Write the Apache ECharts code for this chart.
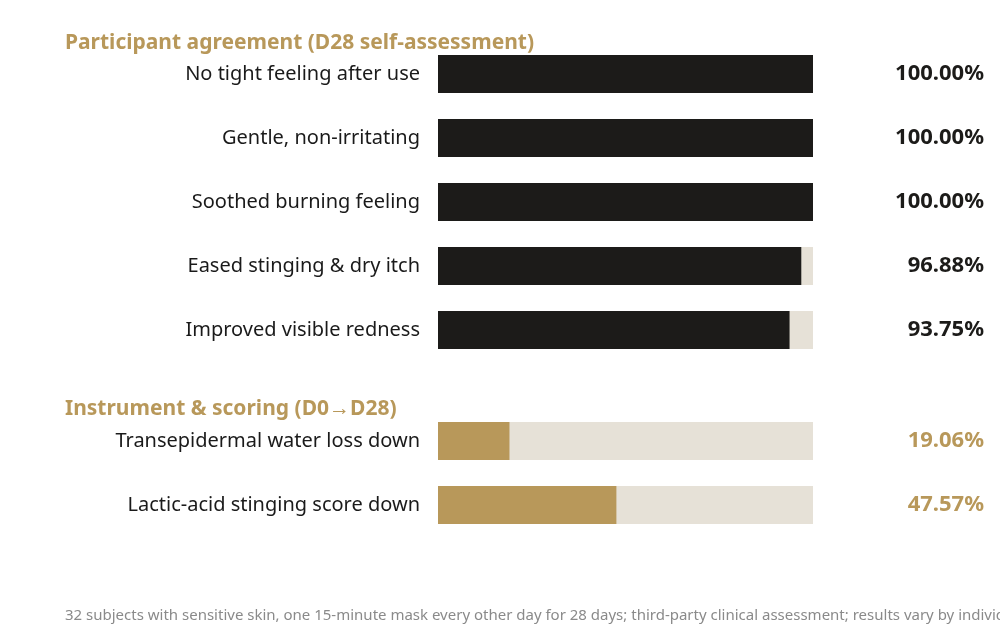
<!DOCTYPE html>
<html><head><meta charset="utf-8">
<script src="https://cdn.jsdelivr.net/npm/echarts@6/dist/echarts.min.js"></script>
<style>html,body{margin:0;padding:0;background:#fff}#c{width:1000px;height:644px}</style>
</head><body><div id="c"></div>
<script>
const agreeCats = ["No tight feeling after use","Gentle, non-irritating","Soothed burning feeling","Eased stinging & dry itch","Improved visible redness"];
const agreeVals = [100, 100, 100, 96.88, 93.75];
const instrCats = ["Transepidermal water loss down","Lactic-acid stinging score down"];
const instrVals = [19.06, 47.57];
const title1 = "Participant agreement (D28 self-assessment)";
const title2 = "Instrument & scoring (D0\u2192D28)";
const footer = "32 subjects with sensitive skin, one 15-minute mask every other day for 28 days; third-party clinical assessment; results vary by individual.";

const GOLD = "#b8985a", DARK = "#1c1b19", TRACK = "#e6e1d7";
const font = "Noto Sans";
const chart = echarts.init(document.getElementById('c'));
function yAxes(idx, cats, vals, color){
  return [
    {gridIndex: idx, type:'category', data: cats, inverse:true,
     axisLine:{show:false}, axisTick:{show:false},
     axisLabel:{color:'#1a1a1a', fontSize:20, fontFamily:font, margin:18}},
    {gridIndex: idx, type:'category', position:'right', data: vals.map(v=>v.toFixed(2)+'%'), inverse:true,
     axisLine:{show:false}, axisTick:{show:false},
     axisLabel:{color:color, fontSize:22, fontWeight:'bold', fontFamily:font, align:'right', margin:171}}
  ];
}
chart.setOption({
  animation:false,
  title:[
    {text:title1, left:60, top:28, textStyle:{color:GOLD, fontSize:21, fontWeight:'bold', fontFamily:font}},
    {text:title2, left:60, top:394, textStyle:{color:GOLD, fontSize:21, fontWeight:'bold', fontFamily:font}},
    {text:footer, left:60, top:603, textStyle:{color:'#8a8a8a', fontSize:15, fontWeight:'normal', fontFamily:font}}
  ],
  grid:[
    {left:438, right:187, top:42, height:320},
    {left:438, right:187, top:409, height:128}
  ],
  xAxis:[
    {gridIndex:0, type:'value', min:0, max:100, show:false},
    {gridIndex:1, type:'value', min:0, max:100, show:false}
  ],
  yAxis:[...yAxes(0, agreeCats, agreeVals, DARK), ...yAxes(1, instrCats, instrVals, GOLD)],
  series:[
    {type:'bar', xAxisIndex:0, yAxisIndex:0, data:agreeVals, barWidth:38,
     itemStyle:{color:DARK}, showBackground:true, backgroundStyle:{color:TRACK}},
    {type:'bar', xAxisIndex:1, yAxisIndex:2, data:instrVals, barWidth:38,
     itemStyle:{color:GOLD}, showBackground:true, backgroundStyle:{color:TRACK}}
  ]
});
</script></body></html>
